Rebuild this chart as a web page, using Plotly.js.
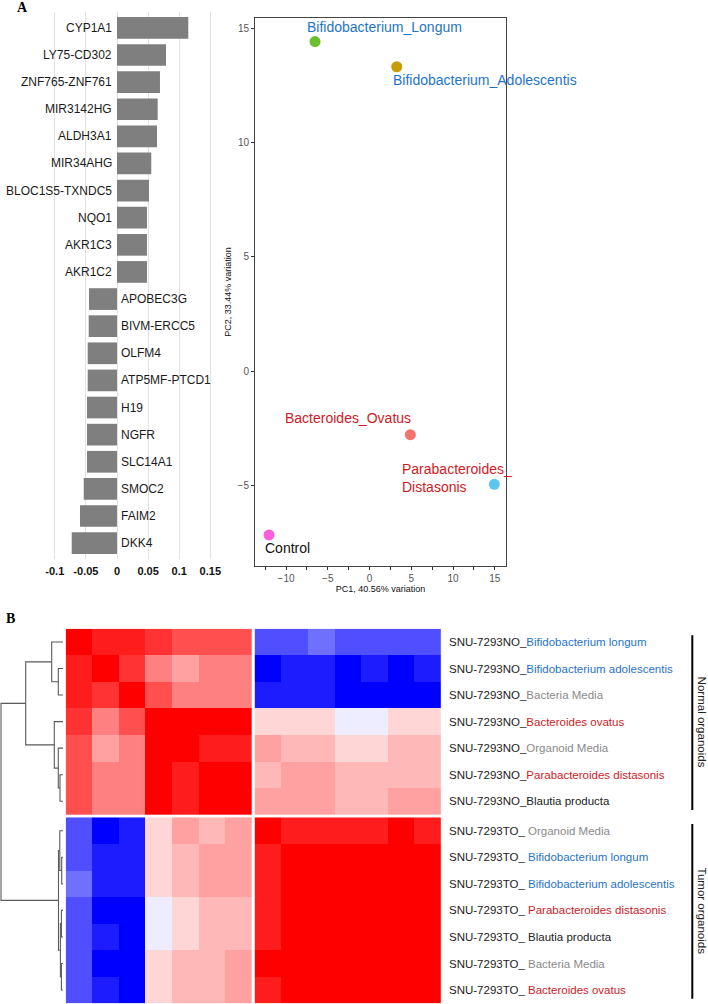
<!DOCTYPE html>
<html>
<head>
<meta charset="utf-8">
<script src="https://cdn.plot.ly/plotly-3.0.1.min.js"></script>
<style>html,body{margin:0;padding:0;background:#fff;}#chart{width:708px;height:1004px;}</style>
</head>
<body>
<div id="chart"></div>
<script>
// ---------- Panel A (left): gene loadings ----------
const genes = ['CYP1A1','LY75-CD302','ZNF765-ZNF761','MIR3142HG','ALDH3A1','MIR34AHG','BLOC1S5-TXNDC5','NQO1','AKR1C3','AKR1C2',
  'APOBEC3G','BIVM-ERCC5','OLFM4','ATP5MF-PTCD1','H19','NGFR','SLC14A1','SMOC2','FAIM2','DKK4'];
const loadings = [0.1146,0.0788,0.0691,0.0654,0.0643,0.0551,0.0514,0.0482,0.0482,0.0482,
  -0.0450,-0.0455,-0.0471,-0.0471,-0.0482,-0.0482,-0.0482,-0.0535,-0.0595,-0.0728];
const loadingTicks = [-0.1,-0.05,0,0.05,0.1,0.15];
const loadingTickText = ['-0.1','-0.05','0','0.05','0.1','0.15'];

// ---------- Panel A (right): PCA ----------
const pcaSamples = ['Bifidobacterium_Longum','Bifidobacterium_Adolescentis','Bacteroides_Ovatus','Parabacteroides_<br>Distasonis','Control'];
const pc1 = [-6.53, 3.26, 4.89, 14.95, -12.04];
const pc2 = [14.41, 13.31, -2.77, -4.94, -7.15];
const pcaTicks = [-10,-5,0,5,10,15];
const pcaTicksY = [-5,0,5,10,15];

// ---------- Panel B: heatmap ----------
const rowPrefix = ['SNU-7293NO_','SNU-7293NO_','SNU-7293NO_','SNU-7293NO_','SNU-7293NO_','SNU-7293NO_','SNU-7293NO_',
  'SNU-7293TO_ ','SNU-7293TO_ ','SNU-7293TO_ ','SNU-7293TO_ ','SNU-7293TO_ ','SNU-7293TO_ ','SNU-7293TO_ '];
const rowSpecies = ['Bifidobacterium longum','Bifidobacterium adolescentis','Bacteria Media','Bacteroides ovatus','Organoid Media',
  'Parabacteroides distasonis','Blautia producta','Organoid Media','Bifidobacterium longum','Bifidobacterium adolescentis',
  'Parabacteroides distasonis','Blautia producta','Bacteria Media','Bacteroides ovatus'];
const groupNames = ['Normal organoids','Tumor organoids'];
const heatValues = [
  [ 1.00, 0.89, 0.89, 0.80, 0.69, 0.69, 0.69, -0.69,-0.69,-0.56,-0.69,-0.69,-0.69,-0.69],
  [ 0.89, 1.00, 0.80, 0.50, 0.37, 0.50, 0.50, -1.00,-0.89,-0.89,-1.00,-0.89,-1.00,-0.89],
  [ 0.89, 0.80, 1.00, 0.69, 0.50, 0.50, 0.50, -0.89,-0.89,-0.89,-1.00,-1.00,-1.00,-1.00],
  [ 0.80, 0.50, 0.69, 1.00, 1.00, 1.00, 1.00,  0.16, 0.16, 0.16,-0.07,-0.07, 0.16, 0.16],
  [ 0.69, 0.37, 0.50, 1.00, 1.00, 0.89, 0.89,  0.37, 0.28, 0.28, 0.16, 0.16, 0.28, 0.28],
  [ 0.69, 0.50, 0.50, 1.00, 0.89, 1.00, 1.00,  0.28, 0.37, 0.37, 0.28, 0.28, 0.28, 0.28],
  [ 0.69, 0.50, 0.50, 1.00, 0.89, 1.00, 1.00,  0.37, 0.37, 0.37, 0.28, 0.28, 0.37, 0.37],
  [-0.69,-1.00,-0.89, 0.16, 0.37, 0.28, 0.37,  1.00, 0.89, 0.89, 0.89, 0.89, 1.00, 0.89],
  [-0.69,-0.89,-0.89, 0.16, 0.28, 0.37, 0.37,  0.89, 1.00, 1.00, 1.00, 1.00, 1.00, 1.00],
  [-0.56,-0.89,-0.89, 0.16, 0.28, 0.37, 0.37,  0.89, 1.00, 1.00, 1.00, 1.00, 1.00, 1.00],
  [-0.69,-1.00,-1.00,-0.07, 0.16, 0.28, 0.28,  0.89, 1.00, 1.00, 1.00, 1.00, 1.00, 1.00],
  [-0.69,-0.89,-1.00,-0.07, 0.16, 0.28, 0.28,  0.89, 1.00, 1.00, 1.00, 1.00, 1.00, 1.00],
  [-0.69,-1.00,-1.00, 0.16, 0.28, 0.28, 0.37,  1.00, 1.00, 1.00, 1.00, 1.00, 1.00, 1.00],
  [-0.69,-0.89,-1.00, 0.16, 0.28, 0.28, 0.37,  0.89, 1.00, 1.00, 1.00, 1.00, 1.00, 1.00]
];
// row dendrogram (hclust-style merges: negative = leaf, positive = earlier merge), heights
const mergeLeft  = [-2,-6,-5,-1,-4, 4,-9,-8,-11,-13, 9, 8, 6];
const mergeRight = [-3,-7, 2, 1, 3, 5,-10, 7,-12,-14,10,11,12];
const mergeHeight= [4.7,3.0,4.7,11.3,8.7,37.3,1.3,3.2,1.6,1.6,2.6,4.5,62];

// ---------- helpers ----------
const W = 708, H = 1004;
const dx = (a,b) => [a/W, b/W];
const dy = (top,bottom) => [1-bottom/H, 1-top/H];
const FONT = 'Liberation Sans, Arial, Helvetica, sans-serif';
const GAP = 0.11;
const nBlock = 7;
const pos = i => i + (i >= nBlock ? GAP : 0);          // cell start for row/col index
const rowCenters = rowSpecies.map((_, i) => pos(i) + 0.5);

function speciesColor(s){
  if (s.startsWith('Bifidobacterium')) return '#1f74c8';
  if (s.endsWith('Media')) return '#8a8a8a';
  if (s.startsWith('Bacteroides') || s.startsWith('Parabacteroides')) return '#d11a1f';
  return '#222222';
}
const rowLabels = rowSpecies.map((s,i) => rowPrefix[i] + '<span style="color:' + speciesColor(s) + '">' + s + '</span>');

const traces = [];

// bar trace
traces.push({type:'bar', orientation:'h', x: loadings, y: genes, xaxis:'x', yaxis:'y',
  marker:{color:'#7f7f7f', line:{width:0}}, hoverinfo:'x+y'});

// PCA trace
traces.push({type:'scatter', mode:'markers', x: pc1, y: pc2, xaxis:'x2', yaxis:'y2',
  marker:{size:11, color:['#6cbf2e','#c99b05','#f4736a','#5bc6ee','#fb5ed9']}, hoverinfo:'x+y', cliponaxis:false});

// heatmap quadrants
const colorscale = [[0,'#0000ff'],[0.5,'#ffffff'],[1,'#ff0000']];
for (let rb = 0; rb < 2; rb++){
  for (let cb = 0; cb < 2; cb++){
    const rows = [...Array(nBlock).keys()].map(k => k + rb*nBlock);
    const cols = [...Array(nBlock).keys()].map(k => k + cb*nBlock);
    const z = rows.map(r => cols.map(c => heatValues[r][c]));
    const xe = [...cols.map(c => pos(c)), pos(cols[nBlock-1]) + 1];
    const ye = [...rows.map(r => pos(r)), pos(rows[nBlock-1]) + 1];
    traces.push({type:'heatmap', z, x: xe, y: ye, xaxis:'x3', yaxis:'y3', colorscale, zmin:-1, zmax:1,
      showscale:false, hoverinfo:'z'});
  }
}

// dendrogram from merges
(function(){
  const mpos = [], mh = [];
  const dxs = [], dys = [];
  const get = k => k < 0 ? [rowCenters[-k-1], 0] : [mpos[k-1], mh[k-1]];
  for (let m = 0; m < mergeLeft.length; m++){
    const [ya, ha] = get(mergeLeft[m]);
    const [yb, hb] = get(mergeRight[m]);
    const h = mergeHeight[m];
    dxs.push(ha, h, h, hb, null);
    dys.push(ya, ya, yb, yb, null);
    mpos.push((ya+yb)/2); mh.push(h);
  }
  traces.push({type:'scatter', mode:'lines', x: dxs, y: dys, xaxis:'x4', yaxis:'y3',
    line:{color:'#5a5a5a', width:1.1}, hoverinfo:'skip', connectgaps:false});
})();

// annotations
const annotations = [];
genes.forEach((g,i) => {
  const pos0 = loadings[i] >= 0;
  annotations.push({xref:'x', yref:'y', x:0, y:g, text:g, showarrow:false,
    xanchor: pos0 ? 'right' : 'left', xshift: pos0 ? -3 : 2, yanchor:'middle',
    font:{size:12, color:'#1a1a1a', family:FONT}});
});
const pcaLabelStyle = [
  {color:'#1f74c8', xanchor:'left',  xshift:-10, yshift:14.5},
  {color:'#1f74c8', xanchor:'left',  xshift:-5.5, yshift:-13.5},
  {color:'#d11a1f', xanchor:'right', xshift:3,  yshift:16.5},
  {color:'#d11a1f', xanchor:'left',  xshift:-94, yshift:6},
  {color:'#111111', xanchor:'left',  xshift:-6.5, yshift:-13.5}
];
pcaSamples.forEach((s,i) => {
  const st = pcaLabelStyle[i];
  annotations.push({xref:'x2', yref:'y2', x:pc1[i], y:pc2[i], text:s, showarrow:false, align:'left',
    xanchor:st.xanchor, yanchor:'middle', xshift:st.xshift, yshift:st.yshift,
    font:{size:14, color:st.color, family:FONT}});
});
annotations.push({xref:'paper', yref:'paper', x:22/W, y:1-8/H, text:'<b>A</b>', showarrow:false,
  xanchor:'center', yanchor:'middle', font:{size:14, family:'Liberation Serif, Times New Roman, serif', color:'#000'}});
annotations.push({xref:'paper', yref:'paper', x:10/W, y:1-618/H, text:'<b>B</b>', showarrow:false,
  xanchor:'center', yanchor:'middle', font:{size:14, family:'Liberation Serif, Times New Roman, serif', color:'#000'}});

const shapes = [];
groupNames.forEach((g,k) => {
  const top = pos(k*nBlock), bottom = pos(k*nBlock + nBlock - 1) + 1;
  shapes.push({type:'line', xref:'paper', yref:'y3', x0:692.3/W, x1:692.3/W, y0: top + 0.25, y1: bottom - 0.17,
    line:{color:'#000', width:2}});
  annotations.push({xref:'paper', yref:'y3', x:702/W, y:(top+bottom)/2, text:g, showarrow:false, textangle:90,
    xanchor:'center', yanchor:'middle', font:{size:11.5, color:'#222', family:FONT}});
});

const layout = {
  width: W, height: H, margin:{l:0, r:0, t:0, b:0}, showlegend:false,
  paper_bgcolor:'#ffffff', plot_bgcolor:'rgba(0,0,0,0)', bargap:0.2,
  font:{family:FONT, color:'#222'},
  xaxis:{domain:dx(30,235), range:[(30-117)/622, (235-117)/622], anchor:'y',
    tickvals:loadingTicks, ticktext:loadingTickText, ticks:'', showgrid:true, gridcolor:'#e2e2e2', gridwidth:1,
    zeroline:false, showline:false, tickfont:{size:11, weight:'bold', color:'#111', family:FONT}, ticklabelstandoff:4},
  yaxis:{domain:dy(11.6,559.4), type:'category', range:[genes.length-0.4, -0.6], anchor:'x',
    showticklabels:false, showgrid:false, zeroline:false, ticks:''},
  xaxis2:{domain:dx(255,506), range:[-13.72,16.35], anchor:'y2', tickvals:pcaTicks, ticks:'outside', ticklen:3,
    tickcolor:'#333', minor:{tickvals:[-12.5,-7.5,-2.5,2.5,7.5,12.5], ticks:'outside', ticklen:3, tickcolor:'#333'},
    showline:true, linecolor:'#444', linewidth:1, mirror:true, showgrid:false, zeroline:false,
    tickfont:{size:10, color:'#555', family:FONT},
    title:{text:'PC1, 40.56% variation', font:{size:9, color:'#111', family:FONT}, standoff:2}},
  yaxis2:{domain:dy(18,566), range:[-8.51,15.44], anchor:'x2', tickvals:pcaTicksY, ticks:'outside', ticklen:3,
    tickcolor:'#333', showline:true, linecolor:'#444', linewidth:1, mirror:true, showgrid:false, zeroline:false,
    tickfont:{size:10, color:'#555', family:FONT},
    title:{text:'PC2, 33.44% variation', font:{size:9, color:'#111', family:FONT}, standoff:4}},
  xaxis3:{domain:dx(65.7,441), range:[0, 2*nBlock+GAP], anchor:'y3', visible:false},
  yaxis3:{domain:dy(628.7,1003.3), range:[2*nBlock+GAP, 0], anchor:'x3', side:'right',
    tickvals:rowCenters, ticktext:rowLabels, ticks:'', showgrid:false, zeroline:false, showline:false,
    tickfont:{size:11.5, color:'#222', family:FONT}, ticklabelstandoff:7},
  xaxis4:{domain:dx(0,63), range:[63,0], anchor:'y3', visible:false},
  annotations, shapes
};

Plotly.newPlot('chart', traces, layout, {staticPlot:true, displayModeBar:false});
</script>
</body>
</html>
